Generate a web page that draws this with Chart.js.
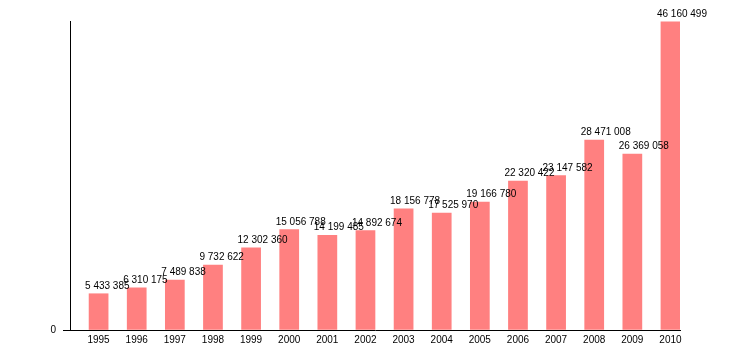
<!DOCTYPE html>
<html>
<head>
<meta charset="utf-8">
<script src="https://cdn.jsdelivr.net/npm/chart.js@4/dist/chart.umd.min.js"></script>
<style>
    html, body { margin: 0; padding: 0; background: #fff; }
    #wrap { width: 730px; height: 350px; }
</style>
</head>
<body>
<div id="wrap"><canvas id="barsCanvas"></canvas></div>
<script>
// ------------------------- data -------------------------
const years = ['1995', '1996', '1997', '1998', '1999', '2000', '2001', '2002',
    '2003', '2004', '2005', '2006', '2007', '2008', '2009', '2010'];
const values = [5433385, 6310175, 7489838, 9732622, 12302360, 15056788, 14199485, 14892674,
    18156778, 17525970, 19166780, 22320422, 23147582, 28471008, 26369058, 46160499];
const yTicks = [0];

// empty series that keeps the left half of each slot free
const spacer = years.map(() => null);

function formatNumber(n) {
    return String(n).replace(/\B(?=(\d{3})+(?!\d))/g, ' ');
}

// ------------------------- value labels -------------------------
const valueLabels = {
    id: 'valueLabels',
    afterDatasetsDraw(chart) {
        const ctx = chart.ctx;
        const meta = chart.getDatasetMeta(1);
        ctx.save();
        ctx.font = '10px "Liberation Sans", Arial, sans-serif';
        ctx.fillStyle = '#000';
        ctx.textAlign = 'left';
        ctx.textBaseline = 'alphabetic';
        meta.data.forEach((bar, i) => {
            const left = bar.x - bar.width / 2 - 4;
            ctx.fillText(formatNumber(values[i]), left, bar.y - 5);
        });
        ctx.restore();
    }
};

const chartBars = document.getElementById('barsCanvas');

new Chart(chartBars, {
    type: 'bar',
    data: {
        labels: years,
        datasets: [
            { data: spacer, backgroundColor: 'rgba(0,0,0,0)' },
            { data: values, backgroundColor: '#ff8080', borderWidth: 0 }
        ]
    },
    options: {
        responsive: true,
        maintainAspectRatio: false,
        animation: false,
        events: [],
        layout: { padding: { left: 0, right: 50, top: 21, bottom: 0 } },
        datasets: { bar: { barPercentage: 1, categoryPercentage: 1 } },
        plugins: {
            legend: { display: false },
            tooltip: { enabled: false }
        },
        scales: {
            x: {
                grid: { display: false, tickLength: 0 },
                border: { display: true, color: '#000', width: 1 },
                ticks: {
                    color: '#000',
                    font: { family: '"Liberation Sans", Arial, sans-serif', size: 10 },
                    maxRotation: 0,
                    autoSkip: false,
                    labelOffset: 9.5,
                    padding: 4
                },
                afterFit: scale => { scale.height = 20; }
            },
            y: {
                min: 0,
                max: 46300000,
                // only the short tick mark at zero, no lines across the plot
                grid: { display: true, drawOnChartArea: false, tickLength: 7, color: '#000' },
                border: { display: true, color: '#000', width: 1 },
                afterBuildTicks: scale => {
                    scale.ticks = yTicks.map(v => ({ value: v }));
                },
                ticks: {
                    color: '#000',
                    font: { family: '"Liberation Sans", Arial, sans-serif', size: 10 },
                    padding: 7,
                    callback: v => formatNumber(v)
                },
                afterFit: scale => { scale.width = 70; }
            }
        }
    },
    plugins: [valueLabels]
});
</script>
</body>
</html>
